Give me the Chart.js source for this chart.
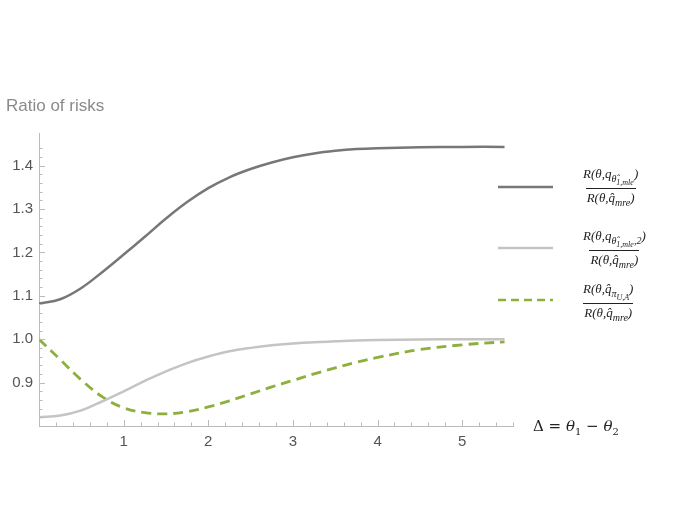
<!DOCTYPE html>
<html>
<head>
<meta charset="utf-8">
<script src="https://cdn.jsdelivr.net/npm/chart.js@4.4.1/dist/chart.umd.min.js"></script>
<style>
    html, body { margin: 0; padding: 0; background: #fff; }
    #wrap { position: relative; width: 678px; height: 524px; }
    #chart { position: absolute; left: 0; top: 0; }
    .ytitle { position: absolute; left: 6px; top: 96px; font: 17px 'Liberation Sans', Arial, sans-serif; color: #8a8a8a; }
    .xtitle { position: absolute; left: 533px; top: 417px; font: 15px 'DejaVu Serif', 'Liberation Serif', serif; color: #222; white-space: nowrap; }
    .xtitle i { font-style: italic; }
    .xtitle sub { font-size: 10px; }
    .legend-line { position: absolute; left: 498px; width: 55px; height: 6px; }
    .frac { position: absolute; left: 582px; display: inline-flex; flex-direction: column; align-items: center;
            font: italic 13px 'Liberation Serif', 'DejaVu Serif', serif; color: #222; white-space: nowrap; }
    .frac .num { padding: 0 1px 1px; }
    .frac .den { border-top: 1px solid #222; padding: 1px 1px 0; }
    .frac sub { font-size: 10px; }
    .frac sub sub { font-size: 8px; }
</style>
</head>
<body>
<div id="wrap">
    <canvas id="chart" width="678" height="524"></canvas>
    <div class="ytitle">Ratio of risks</div>
    <div class="xtitle">Δ = <i>θ</i><sub>1</sub> − <i>θ</i><sub>2</sub></div>

    <svg class="legend-line" style="top:184px"><line x1="0" y1="3" x2="55" y2="3" stroke="#777777" stroke-width="2.5"/></svg>
    <svg class="legend-line" style="top:245px"><line x1="0" y1="3" x2="55" y2="3" stroke="#c4c4c4" stroke-width="2.5"/></svg>
    <svg class="legend-line" style="top:297px"><line x1="0" y1="3" x2="55" y2="3" stroke="#8db03c" stroke-width="2.5" stroke-dasharray="8,5"/></svg>

    <div class="frac" style="top:166px">
        <span class="num">R(θ,q<sub>θ̂<sub>1,mle</sub></sub>)</span>
        <span class="den">R(θ,q̂<sub>mre</sub>)</span>
    </div>
    <div class="frac" style="top:228px">
        <span class="num">R(θ,q<sub>θ̂<sub>1,mle</sub>,2</sub>)</span>
        <span class="den">R(θ,q̂<sub>mre</sub>)</span>
    </div>
    <div class="frac" style="top:281px">
        <span class="num">R(θ,q̂<sub>π<sub>U,A</sub></sub>)</span>
        <span class="den">R(θ,q̂<sub>mre</sub>)</span>
    </div>
</div>
<script>
const deltaValues = [0, 0.25, 0.5, 0.75, 1, 1.25, 1.5, 1.75, 2, 2.25, 2.5, 2.75, 3, 3.25, 3.5, 3.75, 4, 4.5, 5, 5.5];
const ratioMle = [1.082, 1.092, 1.118, 1.155, 1.195, 1.236, 1.278, 1.316, 1.348, 1.373, 1.392, 1.407, 1.419, 1.428, 1.434, 1.438, 1.44, 1.442, 1.443, 1.443];
const ratioMle2 = [0.820, 0.824, 0.836, 0.857, 0.88, 0.904, 0.926, 0.945, 0.96, 0.972, 0.98, 0.986, 0.99, 0.993, 0.995, 0.997, 0.998, 0.999, 1.0, 1.0];
const ratioPi = [1.0, 0.953, 0.906, 0.867, 0.842, 0.831, 0.828, 0.833, 0.844, 0.858, 0.874, 0.89, 0.905, 0.92, 0.934, 0.947, 0.958, 0.976, 0.987, 0.994];

const xMajorLabels = [1, 2, 3, 4, 5];
const yMajorLabels = [0.9, 1.0, 1.1, 1.2, 1.3, 1.4];

function toPoints(ys) {
    return deltaValues.map((x, i) => ({ x, y: ys[i] }));
}

function isMultiple(v, step) {
    const r = v / step;
    return Math.abs(r - Math.round(r)) < 1e-6;
}

// mathematica style ticks: major + minor, drawn inward
const axisTicks = {
    id: 'axisTicks',
    afterDraw(chart) {
        const { ctx, chartArea, scales } = chart;
        ctx.save();
        ctx.strokeStyle = '#bbbbbb';
        ctx.lineWidth = 1;
        scales.x.ticks.forEach((t) => {
            if (t.value <= 0 || !isMultiple(t.value, 0.2)) return;
            const px = Math.round(scales.x.getPixelForValue(t.value)) + 0.5;
            const len = isMultiple(t.value, 1) ? 6 : 3.5;
            ctx.beginPath();
            ctx.moveTo(px, chartArea.bottom);
            ctx.lineTo(px, chartArea.bottom - len);
            ctx.stroke();
        });
        scales.y.ticks.forEach((t) => {
            if (t.value <= 0.801 || !isMultiple(t.value, 0.02)) return;
            const py = Math.round(scales.y.getPixelForValue(t.value)) + 0.5;
            const len = isMultiple(t.value, 0.1) ? 6 : 3.5;
            ctx.beginPath();
            ctx.moveTo(chartArea.left, py);
            ctx.lineTo(chartArea.left + len, py);
            ctx.stroke();
        });
        ctx.restore();
    }
};

const tickFont = { family: "'Liberation Sans', Arial, sans-serif", size: 15 };

new Chart(document.getElementById('chart'), {
    type: 'line',
    data: {
        datasets: [
            {
                data: toPoints(ratioMle),
                borderColor: '#777777',
                borderWidth: 2.5
            },
            {
                data: toPoints(ratioMle2),
                borderColor: '#c4c4c4',
                borderWidth: 2.5
            },
            {
                data: toPoints(ratioPi),
                borderColor: '#8db03c',
                borderWidth: 2.8,
                borderDash: [10, 6]
            }
        ]
    },
    options: {
        responsive: false,
        animation: false,
        events: [],
        elements: {
            point: { radius: 0 },
            line: { tension: 0.4 }
        },
        layout: { padding: { top: 133, right: 165, bottom: 68, left: 0 } },
        plugins: {
            legend: { display: false },
            tooltip: { enabled: false }
        },
        scales: {
            x: {
                type: 'linear',
                min: 0,
                max: 5.6,
                grid: { display: true, drawOnChartArea: false, drawTicks: false },
                border: { display: true, color: '#bbbbbb', width: 1 },
                ticks: {
                    stepSize: 0.2,
                    autoSkip: false,
                    maxRotation: 0,
                    maxTicksLimit: 100,
                    padding: 7,
                    color: '#555555',
                    font: tickFont,
                    callback: (v) => xMajorLabels.some((m) => Math.abs(m - v) < 1e-6) ? String(Math.round(v)) : ''
                },
                afterFit: (s) => { s.height = 30; }
            },
            y: {
                type: 'linear',
                min: 0.8,
                max: 1.475,
                grid: { display: true, drawOnChartArea: false, drawTicks: false },
                border: { display: true, color: '#bbbbbb', width: 1 },
                ticks: {
                    stepSize: 0.02,
                    autoSkip: false,
                    maxTicksLimit: 100,
                    padding: 6,
                    color: '#555555',
                    font: tickFont,
                    callback: (v) => {
                        const m = yMajorLabels.find((t) => Math.abs(t - v) < 1e-6);
                        return m !== undefined ? m.toFixed(1) : '';
                    }
                },
                afterFit: (s) => { s.width = 39; }
            }
        }
    },
    plugins: [axisTicks]
});
</script>
</body>
</html>
